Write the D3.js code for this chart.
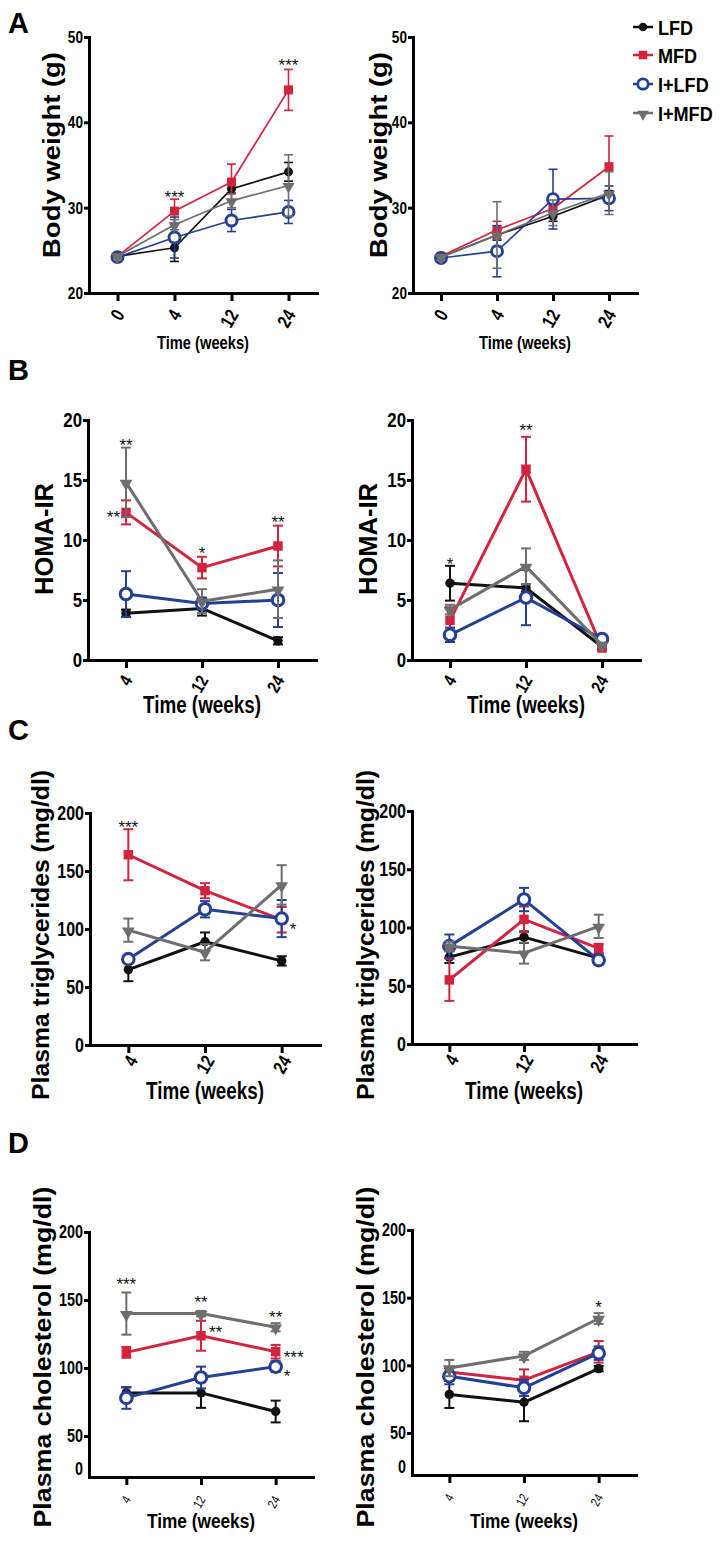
<!DOCTYPE html>
<html><head><meta charset="utf-8">
<script src="https://cdn.jsdelivr.net/npm/d3@7"></script>
<style>
body{margin:0;background:#fff}
svg{display:block}
</style></head>
<body>
<svg id="chart" width="726" height="1547"></svg>
<script>
// ---------------- DATA ----------------
const groups = ["LFD", "MFD", "I+LFD", "I+MFD"];
const weeksA = ["0", "4", "12", "24"];
const weeksBCD = ["4", "12", "24"];
const ticksA = [20, 30, 40, 50];
const ticksB = [0, 5, 10, 15, 20];
const ticksC = [0, 50, 100, 150, 200];
const ticksD = [0, 50, 100, 150, 200];

// Body weight (g): rows = LFD, MFD, I+LFD, I+MFD
const bwLeft = [[24.3, 25.3, 32.2, 34.2], [24.3, 29.6, 33.0, 43.8], [24.2, 26.5, 28.5, 29.5], [24.3, 28.0, 30.8, 32.6]];
const bwLeftErr = [[0.4, 1.6, 0.5, 1.1], [0.3, 1.4, 2.1, 2.4], [0.3, 2.4, 1.3, 1.35], [0.3, 0.6, 0.8, 3.6]];
const bwRight = [[24.2, 26.8, 29.0, 31.5], [24.3, 27.4, 29.9, 34.8], [24.1, 24.9, 31.0, 31.1], [24.2, 26.8, 29.4, 31.7]];
const bwRightErr = [[0.3, 0.6, 0.6, 0.5], [0.3, 1.0, 0.5, 3.6], [0.3, 3.0, 3.5, 1.45], [0.3, 3.9, 1.5, 2.5]];

// HOMA-IR
const homaLeft = [[3.9, 4.3, 1.6], [12.3, 7.7, 9.5], [5.5, 4.7, 5.0], [14.8, 4.9, 5.9]];
const homaLeftErr = [[0.3, 0.6, 0.3], [1.0, 0.9, 1.7], [1.9, 0.5, 2.25], [2.9, 1.0, 2.4]];
const homaRight = [[6.4, 6.0, 1.1], [3.3, 15.9, 1.0], [2.1, 5.2, 1.75], [4.2, 7.8, 1.25]];
const homaRightErr = [[1.45, 0.3, 0.2], [1.1, 2.7, 0.2], [0.6, 2.3, 0.3], [0.4, 1.5, 0.2]];

// Plasma triglycerides (mg/dl)
const tgLeft = [[65, 89, 72.5], [164, 133, 108], [74, 117, 109], [99, 80, 138]];
const tgLeftErr = [[10, 8, 4], [22, 6.5, 11], [3, 7, 16], [10, 7, 17]];
const tgRight = [[74.6, 91.7, 73.7], [55, 107, 82], [84, 124, 72], [84, 78, 101]];
const tgRightErr = [[5, 5, 3], [18, 11, 4], [10, 10, 4], [4, 9, 10]];

// Plasma cholesterol (mg/dl)
const chLeft = [[81.7, 81.7, 68], [111.5, 123.7, 112], [78, 93, 101], [140, 140, 130]];
const chLeftErr = [[4, 11, 8], [4, 11, 5], [8, 8, 4], [15.5, 2, 3]];
const chRight = [[78.5, 72.7, 97.6], [95, 89, 110], [92, 83.4, 109], [98, 107, 134.6]];
const chRightErr = [[10, 14, 2], [3, 8, 8], [6, 6, 5], [6, 3, 4]];

// Significance marks: week, value position, text, placement
const starsALeft = [{w: "4", v: 31.7, t: "***", a: "middle"}, {w: "24", v: 47.1, t: "***", a: "middle"}];
const starsARight = [];
const starsBLeft = [{w: "4", v: 18.25, t: "**", a: "middle"}, {w: "4", v: 12.25, t: "**", a: "end"},
                    {w: "12", v: 9.25, t: "*", a: "middle"}, {w: "24", v: 11.8, t: "**", a: "middle"}];
const starsBRight = [{w: "4", v: 8.3, t: "*", a: "middle"}, {w: "12", v: 19.5, t: "**", a: "middle"}];
const starsCLeft = [{w: "4", v: 191, t: "***", a: "middle"}, {w: "24", v: 103.5, t: "*", a: "start"}];
const starsCRight = [];
const starsDLeft = [{w: "4", v: 164.7, t: "***", a: "middle"}, {w: "12", v: 151.5, t: "**", a: "middle"},
                    {w: "24", v: 140.4, t: "**", a: "middle"}, {w: "12", v: 129.4, t: "**", a: "start"},
                    {w: "24", v: 111, t: "***", a: "start"}, {w: "24", v: 97, t: "*", a: "start"}];
const starsDRight = [{w: "24", v: 146, t: "*", a: "middle"}];

// ---------------- STYLE / LAYOUT ----------------
const colors = {"LFD": "#111111", "MFD": "#d2233f", "I+LFD": "#243f96", "I+MFD": "#6e6e6e"};
const symbols = {"LFD": "circle", "MFD": "square", "I+LFD": "open", "I+MFD": "tri"};
const drawOrder = [0, 1, 2, 3];
const SANS = "'Liberation Sans',Arial,Helvetica,sans-serif";
const NARROW_F = 0.8;

const svg = d3.select("#chart");

function condense(sel, f) {
  sel.each(function () {
    const L = this.getComputedTextLength();
    if (L > 0) d3.select(this).attr("textLength", L * (f || NARROW_F)).attr("lengthAdjust", "spacingAndGlyphs");
  });
}

const common = {
  A: {weeks: weeksA, yTicks: ticksA, yDomain: [20, 50], title: "Body weight (g)", tlen: 206, ty: 155, tfs: 23,
      xtitleY: 349, xtitleLen: 92, xtfs: 18, ytfs: 17, xtickfs: 19, xtickWeight: "bold", xtdx: 1.5, xtdy: 18,
      lw: 1.7, ew: 1.6, cap: 9, ms: 1},
  B: {weeks: weeksBCD, yTicks: ticksB, yDomain: [0, 20], title: "HOMA-IR", tlen: 112, ty: 539, tfs: 25,
      xtitleY: 713, xtitleLen: 118, xtfs: 23, ytfs: 21, xtickfs: 18, xtickWeight: "bold", xtdx: 1, xtdy: 17,
      lw: 3, ew: 2, cap: 10, ms: 1.05},
  C: {weeks: weeksBCD, yTicks: ticksC, yDomain: [0, 200], title: "Plasma triglycerides (mg/dl)", tlen: 330, ty: 935, tfs: 23,
      xtitleY: 1099, xtitleLen: 118, xtfs: 23, ytfs: 20, xtickfs: 19, xtickWeight: "bold", xtdx: 4, xtdy: 12,
      lw: 3, ew: 2, cap: 10, ms: 1.05},
  D: {weeks: weeksBCD, yTicks: ticksD, yDomain: [0, 50, 200], title: "Plasma cholesterol (mg/dl)", tlen: 341, ty: 1357, tfs: 23,
      xtitleY: 1528, xtitleLen: 108, xtfs: 21, ytfs: 18, xtickfs: 13, xtickWeight: "normal", xtdx: 0.5, xtdy: 20,
      lw: 3, ew: 2, cap: 10, ms: 1.05, zeroShift: -8}
};

const panels = [
  {k: "A", vals: bwLeft, errs: bwLeftErr, stars: starsALeft, x0: 89, x1: 317, yRange: [293, 37], tx: 52},
  {k: "A", vals: bwRight, errs: bwRightErr, stars: starsARight, x0: 413, x1: 637, yRange: [293, 37], tx: 379},
  {k: "B", vals: homaLeft, errs: homaLeftErr, stars: starsBLeft, x0: 88, x1: 316, yRange: [660, 420], tx: 44},
  {k: "B", vals: homaRight, errs: homaRightErr, stars: starsBRight, x0: 412, x1: 640, yRange: [660, 420], tx: 368},
  {k: "C", vals: tgLeft, errs: tgLeftErr, stars: starsCLeft, x0: 90, x1: 320, yRange: [1045, 813], tx: 41},
  {k: "C", vals: tgRight, errs: tgRightErr, stars: starsCRight, x0: 412, x1: 636, yRange: [1044, 811], tx: 366},
  {k: "D", vals: chLeft, errs: chLeftErr, stars: starsDLeft, x0: 89, x1: 313, yRange: [1477, 1436, 1232], tx: 43},
  {k: "D", vals: chRight, errs: chRightErr, stars: starsDRight, x0: 412, x1: 636, yRange: [1475, 1433, 1230], tx: 366}
];

function drawMarker(g, type, cx, cy, color, s) {
  if (type === "circle") {
    g.append("circle").attr("cx", cx).attr("cy", cy).attr("r", 4.5 * s).attr("fill", color);
  } else if (type === "square") {
    const a = 9 * s;
    g.append("rect").attr("x", cx - a / 2).attr("y", cy - a / 2).attr("width", a).attr("height", a).attr("fill", color);
  } else if (type === "open") {
    g.append("circle").attr("cx", cx).attr("cy", cy).attr("r", 5.5 * s).attr("fill", "#fff")
      .attr("stroke", color).attr("stroke-width", 2.9 * s);
  } else {
    g.append("path").attr("d", d3.symbol().type(d3.symbolTriangle).size(64 * s * s)())
      .attr("transform", `translate(${cx},${cy + 1}) rotate(180)`).attr("fill", color);
  }
}

function drawPanel(p) {
  const c = common[p.k];
  const g = svg.append("g");
  const x = d3.scalePoint().domain(c.weeks).range([p.x0, p.x1]).padding(0.5);
  const y = d3.scaleLinear().domain(c.yDomain).range(p.yRange);
  const yBase = p.yRange[0];

  // series
  drawOrder.forEach(i => {
    const name = groups[i], col = colors[name];
    const pts = c.weeks.map((w, j) => ({w, v: p.vals[i][j], e: p.errs[i][j]}));
    const sg = g.append("g");
    sg.append("path").datum(pts)
      .attr("d", d3.line().x(d => x(d.w)).y(d => y(d.v)))
      .attr("fill", "none").attr("stroke", col).attr("stroke-width", c.lw).attr("stroke-linejoin", "round");
    pts.forEach(d => {
      const cx = x(d.w), yt = y(d.v + d.e), yb = y(d.v - d.e);
      sg.append("line").attr("x1", cx).attr("x2", cx).attr("y1", yt).attr("y2", yb)
        .attr("stroke", col).attr("stroke-width", c.ew);
      [yt, yb].forEach(yy => sg.append("line").attr("x1", cx - c.cap / 2).attr("x2", cx + c.cap / 2)
        .attr("y1", yy).attr("y2", yy).attr("stroke", col).attr("stroke-width", c.ew));
    });
    pts.forEach(d => drawMarker(sg, symbols[name], x(d.w), y(d.v), col, c.ms));
  });

  // axes
  const ya = g.append("g").attr("transform", `translate(${p.x0},0)`)
    .call(d3.axisLeft(y).tickValues(c.yTicks).tickSize(5).tickSizeOuter(0).tickPadding(1).tickFormat(d3.format("d")));
  const xa = g.append("g").attr("transform", `translate(0,${yBase})`)
    .call(d3.axisBottom(x).tickSize(8).tickSizeOuter(0));
  [ya, xa].forEach(a => {
    a.select(".domain").attr("stroke", "#000").attr("stroke-width", 3).attr("stroke-linecap", "square");
    a.selectAll(".tick line").attr("stroke", "#000").attr("stroke-width", 3);
  });
  ya.selectAll(".tick text").attr("font-family", SANS).attr("font-weight", "bold")
    .attr("font-size", c.ytfs).attr("fill", "#000");
  condense(ya.selectAll(".tick text"));
  if (c.zeroShift) {
    ya.selectAll(".tick").filter(d => d === 0).each(function () {
      d3.select(this).select("line").remove();
      d3.select(this).select("text").attr("y", c.zeroShift);
    });
  }
  xa.selectAll(".tick text")
    .attr("font-family", SANS).attr("font-weight", c.xtickWeight).attr("font-size", c.xtickfs).attr("fill", "#000")
    .attr("x", 0).attr("y", 0).attr("dy", "0.35em").attr("text-anchor", "end")
    .attr("transform", `translate(${c.xtdx},${c.xtdy}) rotate(-60)`);
  condense(xa.selectAll(".tick text"));

  // titles
  g.append("text").text(c.title)
    .attr("transform", `translate(${p.tx},${c.ty}) rotate(-90)`)
    .attr("text-anchor", "middle").attr("dominant-baseline", "central")
    .attr("font-family", SANS).attr("font-weight", "bold").attr("font-size", c.tfs)
    .attr("textLength", c.tlen).attr("lengthAdjust", "spacingAndGlyphs");
  g.append("text").text("Time (weeks)")
    .attr("x", (p.x0 + p.x1) / 2).attr("y", c.xtitleY)
    .attr("text-anchor", "middle")
    .attr("font-family", SANS).attr("font-weight", "bold").attr("font-size", c.xtfs)
    .attr("textLength", c.xtitleLen).attr("lengthAdjust", "spacingAndGlyphs");

  // stars
  p.stars.forEach(s => {
    const off = s.a === "start" ? 8 : (s.a === "end" ? -6 : 0);
    g.append("text").text(s.t)
      .attr("x", x(s.w) + off).attr("y", y(s.v)).attr("dy", "0.57em")
      .attr("text-anchor", s.a)
      .attr("font-family", SANS).attr("font-size", 17).attr("fill", "#111");
  });
}

panels.forEach(drawPanel);

// panel letters
const letters = [{t: "A", y: 33}, {t: "B", y: 380}, {t: "C", y: 740}, {t: "D", y: 1153}];
svg.selectAll("text.letter").data(letters).enter().append("text")
  .attr("class", "letter").attr("x", 8).attr("y", d => d.y).text(d => d.t)
  .attr("font-family", SANS).attr("font-weight", "bold").attr("font-size", 29);

// legend
const lg = svg.append("g");
const legY = [27, 55, 84, 113];
groups.forEach((name, i) => {
  const col = colors[name];
  lg.append("line").attr("x1", 633).attr("x2", 653).attr("y1", legY[i]).attr("y2", legY[i])
    .attr("stroke", col).attr("stroke-width", 2.5);
  drawMarker(lg, symbols[name], 643, legY[i], col, 0.95);
  lg.append("text").attr("x", 658).attr("y", legY[i]).attr("dy", "0.36em").text(name)
    .attr("font-family", SANS).attr("font-weight", "bold").attr("font-size", 21);
});
condense(lg.selectAll("text"), 0.86);
</script>
</body></html>
